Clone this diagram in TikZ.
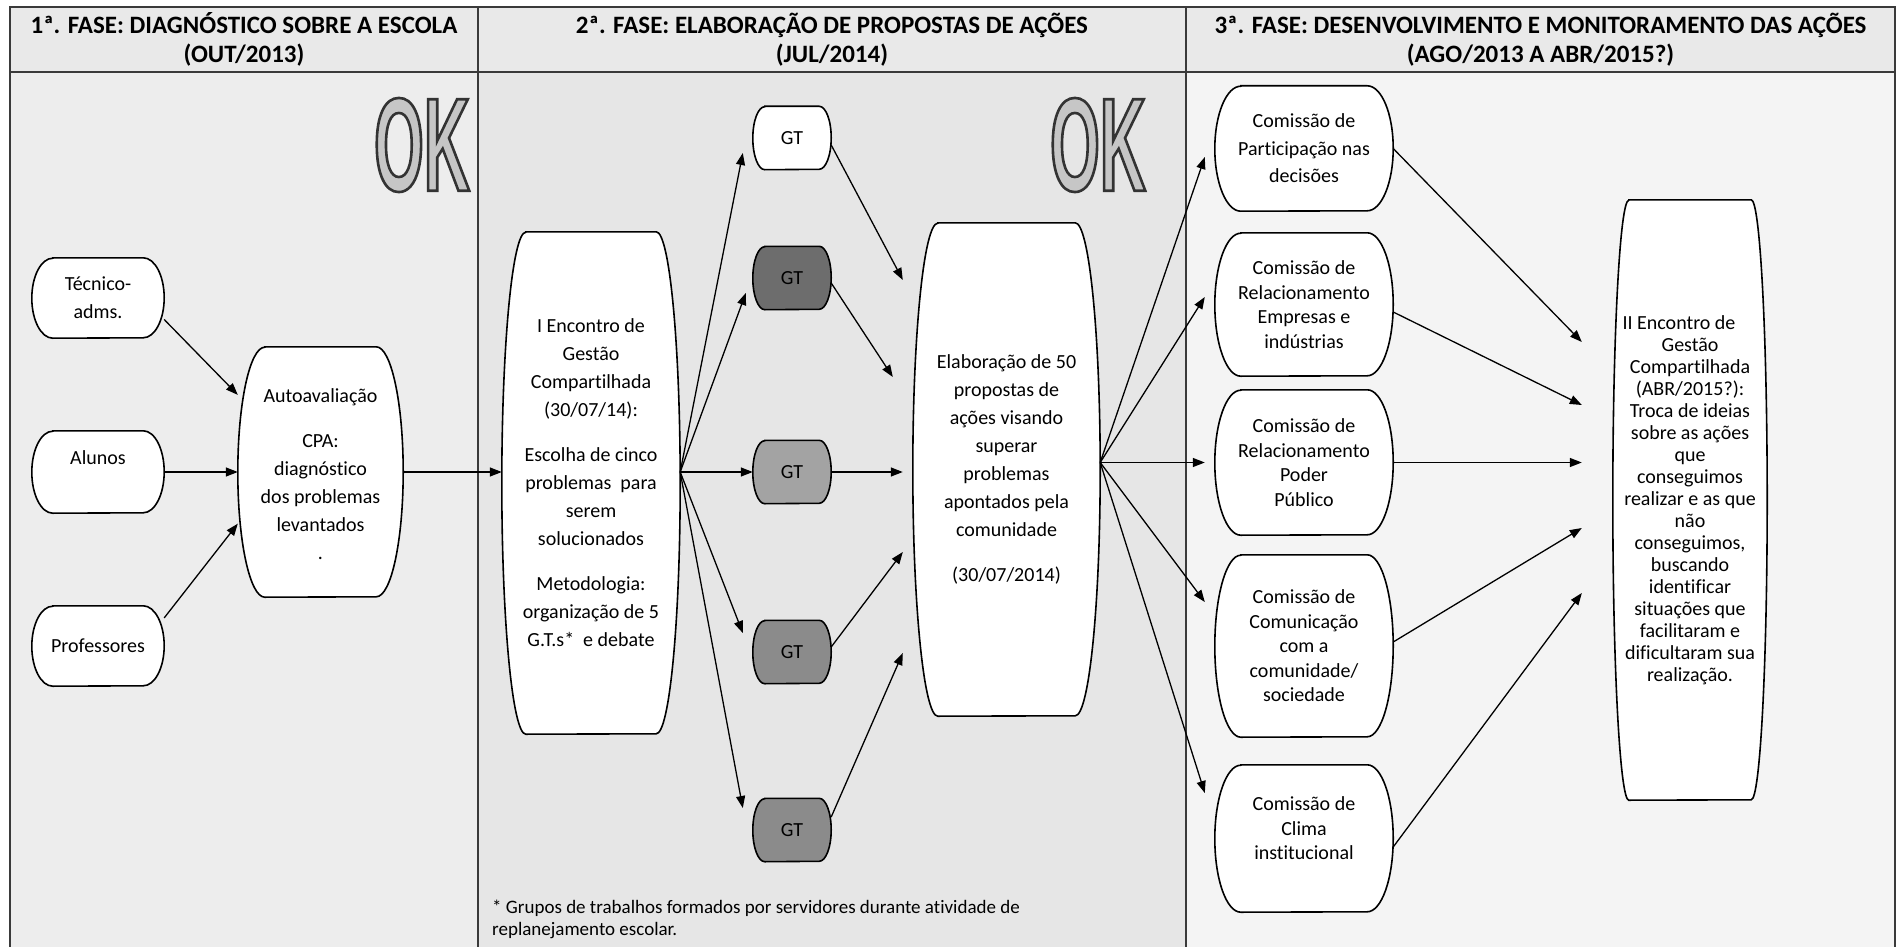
\documentclass[tikz,border=0pt]{standalone}
\usepackage{fontspec}
\setmainfont{Carlito}[Ligatures=NoCommon]
\newfontfamily\okfont{Liberation Sans}[FakeStretch=0.48]
\usetikzlibrary{arrows.meta,calc}
\pgfdeclarelayer{panels}
\pgfdeclarelayer{shapes}
\pgfsetlayers{panels,shapes,main}
\definecolor{hdr}{HTML}{E9E9E9}
\definecolor{pone}{HTML}{EDEDED}
\definecolor{ptwo}{HTML}{E6E6E6}
\definecolor{pthree}{HTML}{F4F4F4}
\definecolor{gtdark}{HTML}{6D6D6D}
\definecolor{gtmid}{HTML}{A3A3A3}
\definecolor{gtdeep}{HTML}{8B8B8B}
\definecolor{okfill}{HTML}{C6C6C6}
\definecolor{frameline}{HTML}{3A3A3A}
\tikzset{
  txt/.style={inner sep=0pt, align=center, font=\fontsize{20}{28}\selectfont},
  tight/.style={font=\fontsize{20}{24.5}\selectfont},
  hdrtext/.style={inner sep=0pt, align=center, font=\fontsize{25}{29}\selectfont\bfseries},
  outline/.style={draw=black, line width=1.6pt},
  arr/.style={draw=black, line width=1.3pt, -{Triangle[length=12pt,width=9pt]}},
  rule/.style={draw=frameline, line width=1.4pt},
  okstyle/.style={inner sep=0pt, font=\okfont\bfseries\fontsize{133}{133}\selectfont},
  note/.style={inner sep=0pt, align=left, font=\fontsize{19}{21.5}\selectfont},
}
\newcommand\okword{{\color{okfill}\special{pdf:literal direct 2 Tr 2.6 w 0.2 0.2 0.2 RG}OK\special{pdf:literal direct 0 Tr}}}
% #1 name, #2 options, #3 x, #4 y, #5 width, #6 height, #7 side radius, #8 fill, #9 text
\newcommand\tnode[9]{%
  \node[txt,#2,minimum width=#5,minimum height=#6] (#1) at (#3,-#4) {#9};
  \begin{pgfonlayer}{shapes}
    \path[outline,fill=#8] ($(#1.north west)+(#7,0)$) -- ($(#1.north east)+(-#7,0)$)
      arc[start angle=90,end angle=-90,x radius=#7,y radius=#6/2]
      -- ($(#1.south west)+(#7,0)$)
      arc[start angle=270,end angle=90,x radius=#7,y radius=#6/2] -- cycle;
  \end{pgfonlayer}}
\begin{document}
\begin{tikzpicture}[x=1pt,y=1pt]
\useasboundingbox (0,0) rectangle (1901,-947);
% panels
\begin{pgfonlayer}{panels}
  \fill[white] (0,0) rectangle (1901,-947);
  \fill[hdr] (10,-7) rectangle (1895,-72);
  \fill[pone] (10,-72) rectangle (478,-947);
  \fill[ptwo] (478,-72) rectangle (1186,-947);
  \fill[pthree] (1186,-72) rectangle (1895,-947);
  \draw[rule] (10,-947) -- (10,-7) -- (1895,-7) -- (1895,-947);
  \draw[rule] (10,-72) -- (1895,-72);
  \draw[rule] (478,-7) -- (478,-947);
  \draw[rule] (1186,-7) -- (1186,-947);
\end{pgfonlayer}
% headers
\node[hdrtext] (h1) at (244,-39.5) {1ª. FASE: DIAGNÓSTICO SOBRE A ESCOLA\\(OUT/2013)};
\node[hdrtext] (h2) at (832,-39.5) {2ª. FASE: ELABORAÇÃO DE PROPOSTAS DE AÇÕES\\(JUL/2014)};
\node[hdrtext] (h3) at (1540.5,-39.5) {3ª. FASE: DESENVOLVIMENTO E MONITORAMENTO DAS AÇÕES\\(AGO/2013 A ABR/2015?)};
% OK marks
\node[okstyle] (ok1) at (422,-145) {\okword};
\node[okstyle] (ok2) at (1098,-145) {\okword};
% phase 1
\tnode{tec}{}{98}{298}{132}{80}{21}{white}{Técnico-\\adms.}
\tnode{alu}{}{98}{472}{132}{82}{21}{white}{Alunos\\\mbox{}}
\tnode{pro}{}{98}{646}{132}{80}{21}{white}{Professores}
\tnode{auto}{}{320.5}{472}{165}{250}{27}{white}{\mbox{}\\[-10pt]Autoavaliação\\[17pt]CPA:\\diagnóstico\\dos problemas\\levantados\\.}
% phase 2
\tnode{ienc}{}{591}{483}{178}{502}{24}{white}{I Encontro de\\Gestão\\Compartilhada\\(30/07/14):\\[17pt]Escolha de cinco\\problemas~ para\\serem\\solucionados\\[17pt]Metodologia:\\organização de 5\\G.T.s*~ e debate}
\tnode{gta}{}{792}{138}{78}{63}{12}{white}{GT}
\tnode{gtb}{}{792}{278}{78}{63}{12}{gtdark}{GT}
\tnode{gtc}{}{792}{472}{78}{63}{12}{gtmid}{GT}
\tnode{gtd}{}{792}{652}{78}{63}{12}{gtdeep}{GT}
\tnode{gte}{}{792}{830}{78}{63}{12}{gtdeep}{GT}
\tnode{elab}{}{1006.5}{469.5}{187}{493}{25}{white}{Elaboração de 50\\propostas de\\ações visando\\superar\\problemas\\apontados pela\\comunidade\\[17pt](30/07/2014)}
\node[note, anchor=north west] (fn) at (492,-900) {* Grupos de trabalhos formados por servidores durante atividade de\\replanejamento escolar.};
% phase 3
\tnode{ca}{font=\fontsize{20}{27.5}\selectfont}{1304}{148.5}{178}{125}{26}{white}{Comissão de\\Participação nas\\decisões}
\tnode{cb}{tight}{1304}{304.5}{178}{143}{26}{white}{Comissão de\\Relacionamento\\Empresas e\\indústrias}
\tnode{cc}{tight}{1304}{462.5}{178}{145}{26}{white}{Comissão de\\Relacionamento\\Poder\\Público}
\tnode{cd}{tight}{1304}{646}{178}{182}{26}{white}{Comissão de\\Comunicação\\com a\\comunidade/\\sociedade}
\tnode{ce}{tight}{1304}{838.5}{178}{147}{26}{white}{Comissão de\\Clima\\institucional\\[-4pt]\mbox{}}
\tnode{iienc}{font=\fontsize{20}{22}\selectfont}{1690}{500}{154}{600}{16}{white}{II Encontro de\hspace*{1.1em}\\Gestão\\Compartilhada\\(ABR/2015?):\\Troca de ideias\\sobre as ações\\que\\conseguimos\\realizar e as que\\não\\conseguimos,\\buscando\\identificar\\situações que\\facilitaram e\\dificultaram sua\\realização.}
% connectors phase 1
\draw[arr] (tec.-18) -- (auto.137);
\draw[arr] (alu.east) -- (auto.west);
\draw[arr] (pro.23) -- (auto.212);
\draw[arr] (auto.east) -- (auto.east -| ienc.west);
% connectors phase 2
\coordinate (fa) at (ienc.east |- gtc.west);
\coordinate (ea) at ($(gta.west)+(-10,-15)$);
\coordinate (eb) at ($(gtb.west)+(-7,-15)$);
\coordinate (ed) at ($(gtd.west)+(-10,19)$);
\coordinate (ee) at ($(gte.west)+(-10,22)$);
\draw[arr] (fa) -- (ea);
\draw[arr] (fa) -- (eb);
\draw[arr] (fa) -- (gtc.west);
\draw[arr] (fa) -- (ed);
\draw[arr] (fa) -- (ee);
\draw[arr] ($(gta.east)+(0,-7)$) -- ($(elab.west)+(-10,189.5)$);
\draw[arr] ($(gtb.east)+(0,-5)$) -- ($(elab.west)+(-20,92.5)$);
\draw[arr] (gtc.east) -- ($(gtc.east -| elab.west)+(-10,0)$);
\draw[arr] ($(gtd.east)+(0,5)$) -- ($(elab.west)+(-10,-82.5)$);
\draw[arr] ($(gte.east)+(0,13)$) -- ($(elab.west)+(-10,-183.5)$);
% connectors phase 3
\coordinate (fb) at (elab.east |- cc.west);
\draw[arr] (fb) -- ($(ca.west)+(-10,-8.5)$);
\draw[arr] (fb) -- ($(cb.west)+(-10,7.5)$);
\draw[arr] (fb) -- ($(cc.west)+(-10,0)$);
\draw[arr] (fb) -- ($(cd.west)+(-10,44)$);
\draw[arr] (fb) -- ($(ce.west)+(-10,45.5)$);
\draw[arr] (ca.east) -- ($(iienc.west)+(-31,158)$);
\draw[arr] ($(cb.east)+(0,-7.5)$) -- ($(iienc.west)+(-31,95)$);
\draw[arr] (cc.east) -- ($(cc.east -| iienc.west)+(-31,0)$);
\draw[arr] ($(cd.east)+(0,4)$) -- ($(iienc.west)+(-31,-28)$);
\draw[arr] ($(ce.east)+(0,-8.5)$) -- ($(iienc.west)+(-31,-93)$);
\end{tikzpicture}
\end{document}
